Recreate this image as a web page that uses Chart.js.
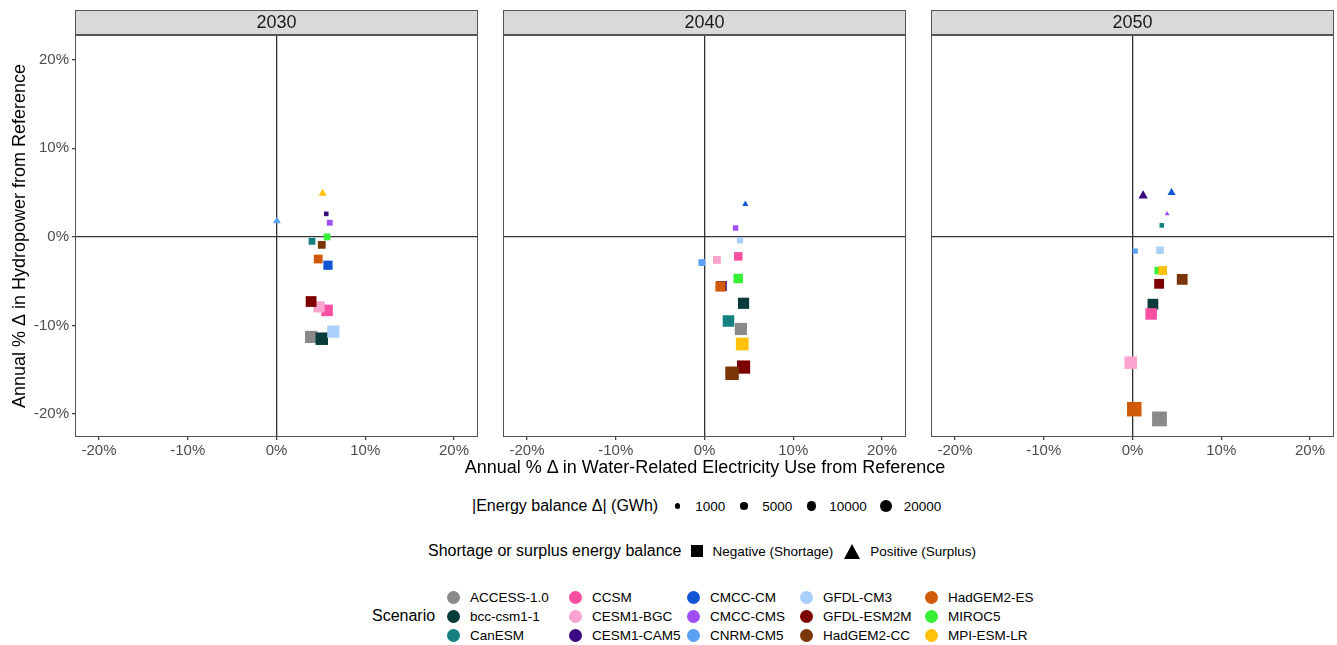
<!DOCTYPE html>
<html>
<head>
<meta charset="utf-8">
<script src="https://cdn.jsdelivr.net/npm/chart.js@4.4.1/dist/chart.umd.min.js"></script>
<style>
  body { margin: 0; background: #fff; font-family: "Liberation Sans", Arial, sans-serif; }
  #fig { position: relative; width: 1337px; height: 645px; overflow: hidden; background: #fff; }
  #fig canvas { position: absolute; top: 0; }
  .row { position: absolute; display: flex; align-items: center; color: #000; white-space: nowrap; }
  .ttl { font-size: 16px; }
  .lab { font-size: 13.5px; }
  .key { display: flex; align-items: center; justify-content: center; width: 20px; height: 20px; }
  .dot { border-radius: 50%; background: #000; }
  #xtitle { position: absolute; left: 405px; width: 600px; top: 457px; line-height: 20px;
            text-align: center; font-size: 18px; color: #000; white-space: nowrap; }
  #scen { position: absolute; left: 445px; top: 588px; display: grid;
          grid-template-columns: 122px 118px 113px 125px auto; grid-auto-rows: 19px; }
  #scen div { display: flex; align-items: center; font-size: 13.5px; }
  #scen span.c { display: inline-block; width: 13px; height: 13px; border-radius: 50%; margin: 0 10px 0 2px; }
</style>
</head>
<body>
<div id="fig">
  <canvas id="c2030" width="480" height="485" style="left:0"></canvas>
  <canvas id="c2040" width="415" height="485" style="left:495px"></canvas>
  <canvas id="c2050" width="415" height="485" style="left:923px"></canvas>
  <div id="xtitle">Annual % Δ in Water-Related Electricity Use from Reference</div>

  <div class="row" id="sizeRow" style="left:472px; top:496px; height:20px;">
    <span class="ttl" style="margin-right:9px">|Energy balance Δ| (GWh)</span>
  </div>
  <div class="row" id="shapeRow" style="left:428px; top:541px; height:20px;">
    <span class="ttl" style="margin-right:5px">Shortage or surplus energy balance</span>
    <span class="key"><span style="width:12px;height:12px;background:#000;display:inline-block"></span></span>
    <span class="lab" style="margin:0 9px 0 6px">Negative (Shortage)</span>
    <span class="key"><span style="width:0;height:0;border-left:8.5px solid transparent;border-right:8.5px solid transparent;border-bottom:15px solid #000;display:inline-block"></span></span>
    <span class="lab" style="margin-left:8px">Positive (Surplus)</span>
  </div>
  <div class="row" style="left:372px; top:606px; height:20px;"><span class="ttl">Scenario</span></div>
  <div id="scen"></div>
</div>

<script>
const models = ["ACCESS-1.0", "bcc-csm1-1", "CanESM", "CCSM", "CESM1-BGC", "CESM1-CAM5",
  "CMCC-CM", "CMCC-CMS", "CNRM-CM5", "GFDL-CM3", "GFDL-ESM2M", "HadGEM2-CC",
  "HadGEM2-ES", "MIROC5", "MPI-ESM-LR"];
const modelColors = ["#8a8a8a", "#0a3b3b", "#168080", "#f94fa0", "#f9a3cf", "#3b0a80",
  "#1055d5", "#a24ef5", "#5aa0f5", "#a9d0fa", "#7d0000", "#7a3608",
  "#d15a0a", "#35f035", "#ffc10a"];

const years = ["2030", "2040", "2050"];
const tickValues = [-20, -10, 0, 10, 20];
const tickLabels = ["-20%", "-10%", "0%", "10%", "20%"];
const sizeBreaks = [1000, 5000, 10000, 20000];

// % change in water-related electricity use (x), hydropower (y), signed energy balance (GWh)
const elec2030 = [3.9, 5.1, 4.0, 5.7, 4.8, 5.6, 5.8, 6.0, 0.05, 6.4, 3.9, 5.1, 4.7, 5.7, 5.2];
const hydro2030 = [-11.3, -11.5, -0.5, -8.3, -7.9, 2.6, -3.2, 1.6, 1.8, -10.7, -7.3, -0.9, -2.5, 0.0, 4.9];
const balance2030 = [-28500, -30300, -5400, -24500, -22800, -1200, -13400, -3100, 2000, -28500, -20700, -8300, -11800, -5400, 2300];

const elec2040 = [4.1, 4.4, 2.7, 3.8, 1.4, 1.95, 4.6, 3.5, -0.3, 4.0, 4.4, 3.1, 1.8, 3.8, 4.25];
const hydro2040 = [-10.4, -7.5, -9.5, -2.2, -2.6, -5.55, 3.7, 1.0, -2.9, -0.4, -14.7, -15.4, -5.6, -4.7, -12.1];
const balance2040 = [-28500, -22800, -24500, -10700, -8300, -16900, 630, -2500, -5400, -3900, -34800, -36800, -17800, -14600, -32200];

const elec2050 = [3.04, 2.3, 3.3, 2.1, -0.2, 1.2, 4.4, 3.9, 0.3, 3.1, 3.0, 5.6, 0.2, 2.9, 3.4];
const hydro2050 = [-20.56, -7.6, 1.3, -8.7, -14.2, 4.65, 5.0, 2.6, -1.6, -1.5, -5.3, -4.8, -19.46, -3.8, -3.8];
const balance2050 = [-46100, -20700, -1200, -24500, -30300, 4000, 2300, 100, -2000, -7300, -16000, -20700, -43900, -7300, -11800];

const FONT = '"Liberation Sans", Arial, sans-serif';
Chart.defaults.font.family = FONT;

// ggplot-like area scale: circle diameter in px
function keyDiameter(absVal) {
  return 3 + 0.0638 * Math.sqrt(absVal);
}

const panelFrame = {
  id: "panelFrame",
  beforeDraw(chart, args, opts) {
    const { ctx, chartArea: a } = chart;
    const l = Math.round(a.left) + 0.5;
    const r = Math.round(a.right) - 0.5;
    ctx.save();
    ctx.fillStyle = "#d9d9d9";
    ctx.strokeStyle = "#555";
    ctx.lineWidth = 1;
    ctx.fillRect(l, 10.5, r - l, 24);
    ctx.strokeRect(l, 10.5, r - l, 24);
    ctx.fillStyle = "#1a1a1a";
    ctx.font = "18px " + FONT;
    ctx.textAlign = "center";
    ctx.textBaseline = "middle";
    ctx.fillText(opts.title, (l + r) / 2, 23);
    ctx.restore();
  },
  afterDraw(chart) {
    const { ctx, chartArea: a } = chart;
    const l = Math.round(a.left) + 0.5;
    const r = Math.round(a.right) - 0.5;
    const t = Math.round(a.top) + 0.5;
    const b = Math.round(a.bottom) - 0.5;
    ctx.save();
    ctx.strokeStyle = "#555";
    ctx.lineWidth = 1;
    ctx.strokeRect(l, t, r - l, b - t);
    ctx.restore();
  },
};

function zeroGrid(ctx) {
  return ctx.tick && ctx.tick.value === 0 ? "#333" : "rgba(0,0,0,0)";
}

function makePanel(id, year, xs, ys, bal, first) {
  const data = xs.map((x, i) => ({ x: x, y: ys[i], e: bal[i] }));
  return new Chart(document.getElementById(id), {
    type: "scatter",
    data: {
      datasets: [{
        data: data,
        backgroundColor: (c) => modelColors[c.dataIndex],
        borderWidth: 0,
        pointStyle: (c) => (c.raw && c.raw.e > 0 ? "triangle" : "rect"),
        pointRadius: (c) => {
          if (!c.raw) return 3;
          const d = keyDiameter(Math.abs(c.raw.e));
          return c.raw.e > 0 ? 1.555 * d / 2 : 0.886 * d / Math.SQRT2;
        },
      }],
    },
    options: {
      responsive: false,
      animation: false,
      events: [],
      layout: {
        autoPadding: false,
        padding: { top: 35, bottom: 0, left: first ? 0 : 8, right: first ? 2 : 4 },
      },
      plugins: {
        legend: { display: false },
        tooltip: { enabled: false },
        panelFrame: { title: year },
      },
      scales: {
        x: {
          type: "linear",
          min: -22.7,
          max: 22.7,
          afterBuildTicks: (s) => { s.ticks = tickValues.map((v) => ({ value: v })); },
          afterFit: (s) => { s.height = 48; },
          ticks: {
            callback: (v, i) => tickLabels[i],
            font: { size: 15 },
            color: "#4d4d4d",
            padding: 2,
            maxRotation: 0,
            autoSkip: false,
          },
          grid: { color: zeroGrid, lineWidth: 1.3, tickColor: "#444", tickLength: 3, drawTicks: true },
          border: { display: false },
        },
        y: {
          type: "linear",
          min: -22.6,
          max: 22.8,
          afterBuildTicks: (s) => { s.ticks = tickValues.map((v) => ({ value: v })); },
          afterFit: (s) => { s.width = first ? 75 : 0; },
          ticks: {
            display: first,
            callback: (v, i) => tickLabels[i],
            font: { size: 15 },
            color: "#4d4d4d",
            padding: 3,
            autoSkip: false,
          },
          grid: { color: zeroGrid, lineWidth: 1.3, tickColor: "#444", tickLength: 3, drawTicks: first },
          border: { display: false },
          title: {
            display: first,
            text: "Annual % Δ in Hydropower from Reference",
            font: { size: 18 },
            color: "#000",
            padding: { top: 9, bottom: 0 },
          },
        },
      },
    },
    plugins: [panelFrame],
  });
}

makePanel("c2030", years[0], elec2030, hydro2030, balance2030, true);
makePanel("c2040", years[1], elec2040, hydro2040, balance2040, false);
makePanel("c2050", years[2], elec2050, hydro2050, balance2050, false);

// size legend
const sizeRow = document.getElementById("sizeRow");
sizeBreaks.forEach((b, i) => {
  const key = document.createElement("span");
  key.className = "key";
  const dot = document.createElement("span");
  dot.className = "dot";
  const d = keyDiameter(b);
  dot.style.width = d + "px";
  dot.style.height = d + "px";
  key.appendChild(dot);
  const lab = document.createElement("span");
  lab.className = "lab";
  lab.textContent = String(b);
  lab.style.margin = i < sizeBreaks.length - 1 ? "0 9px 0 8px" : "0 0 0 8px";
  sizeRow.appendChild(key);
  sizeRow.appendChild(lab);
});

// scenario legend, filled column by column (3 rows)
const scen = document.getElementById("scen");
scen.style.gridAutoFlow = "column";
scen.style.gridTemplateRows = "19px 19px 19px";
models.forEach((m, i) => {
  const cell = document.createElement("div");
  const c = document.createElement("span");
  c.className = "c";
  c.style.background = modelColors[i];
  cell.appendChild(c);
  cell.appendChild(document.createTextNode(m));
  scen.appendChild(cell);
});
</script>
</body>
</html>
